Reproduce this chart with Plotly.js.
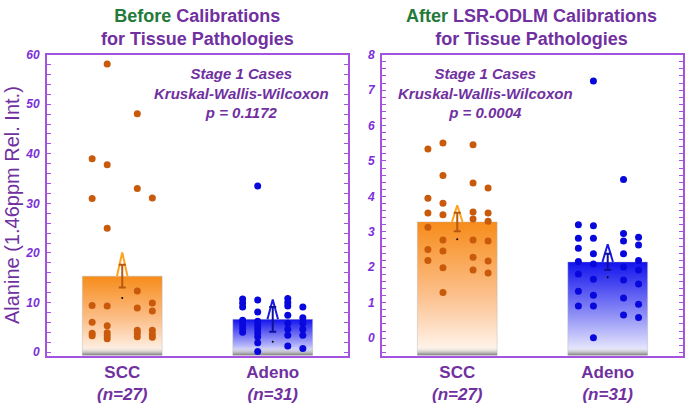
<html><head><meta charset="UTF-8"><title>Alanine before / after calibration</title>
<script src="https://cdn.jsdelivr.net/npm/plotly.js-dist-min@3"></script>
<style>
  body, html { margin: 0; padding: 0; background: #ffffff; }
  #plot { width: 685px; height: 411px; }
</style></head><body>
<div id="plot"></div>
<script>
  const categories = ['SCC', 'Adeno'];
  const counts = [27, 31];

  // before calibration, points grouped by jitter column
  const sccBefore = [
    [39.0, 31.0, 9.4, 6.0, 3.8, 3.3],
    [58.1, 37.8, 25.0, 9.3, 5.3, 3.9, 3.3, 2.7],
    [48.1, 33.0, 12.3, 8.9, 4.4, 3.8, 3.1],
    [31.1, 9.9, 8.3, 4.4, 3.6, 3.0]
  ];
  const adenoBefore = [
    [10.7, 9.9, 9.1, 6.4, 5.6, 4.8, 4.0],
    [33.5, 10.5, 8.1, 6.2, 5.4, 4.7, 3.9, 3.1, 1.9, 0.1],
    [10.8, 10.0, 9.3, 7.4, 5.8, 4.6, 3.4, 1.2],
    [9.1, 6.9, 5.8, 4.6, 3.4, 0.7]
  ];
  const meansBefore = [15.3, 6.6];
  const semBefore = [2.3, 2.5];
  const upperBefore = [20.1, 10.6];
  const medianBefore = [10.9, 2.1];

  // after LSR-ODLM calibration
  const sccAfter = [
    [5.34, 3.95, 3.53, 3.13, 2.50, 2.19],
    [5.51, 4.59, 3.81, 3.48, 2.77, 2.46, 1.99, 1.29],
    [5.46, 4.38, 3.56, 3.36, 2.77, 2.28, 1.92],
    [4.24, 3.53, 3.30, 2.74, 2.18, 1.84]
  ];
  const adenoAfter = [
    [3.20, 2.82, 2.54, 2.16, 1.81, 1.32, 0.91],
    [7.26, 3.17, 2.82, 2.38, 2.09, 1.66, 1.21, 0.91, 0.01],
    [4.48, 2.95, 2.74, 2.38, 2.01, 1.64, 1.13, 0.65],
    [2.85, 2.63, 2.19, 1.92, 1.53, 0.96, 0.58]
  ];
  const meansAfter = [3.28, 2.15];
  const semAfter = [0.26, 0.23];
  const upperAfter = [3.75, 2.65];
  const medianAfter = [2.79, 1.72];

  const pValues = ['0.1172', '0.0004'];

  const FONT = 'Liberation Sans, Arial, sans-serif';
  const PURPLE = '#7030a0';
  const TICKPURPLE = '#7b2fd9';
  const FRAME = '#a452e0';

  const styles = [
    { top: '#f78c1a', mid: '#fcc08c', bottom: '#fffaf6', dot: '#c95a0c', tri: '#ffa31f', err: '#b8590f' },
    { top: '#1212ee', mid: '#8c8cf6', bottom: '#f6f6ff', dot: '#0808dd', tri: '#1a1ae6', err: '#10109a' }
  ];

  function buildPanel(groups, means, sem, upper, median, range, offsets, xa, ya) {
    const traces = [];
    const hw = 0.265;
    const ymin = range[0];
    const band = (range[1] - range[0]) * 0.03;
    categories.forEach((cat, i) => {
      const st = styles[i];
      traces.push({
        x: [i - hw, i + hw, i + hw, i - hw, i - hw],
        y: [ymin, ymin, means[i], means[i], ymin],
        xaxis: xa, yaxis: ya, mode: 'lines', fill: 'toself',
        line: { color: 'rgba(185,185,185,0.45)', width: 1 },
        fillgradient: { type: 'vertical', colorscale: [[0, st.bottom], [0.45, st.mid], [1, st.top]] },
        hoverinfo: 'skip'
      });
      traces.push({
        x: [i - hw, i + hw, i + hw, i - hw, i - hw],
        y: [ymin, ymin, ymin + band, ymin + band, ymin],
        xaxis: xa, yaxis: ya, mode: 'lines', fill: 'toself',
        line: { width: 0, color: 'rgba(0,0,0,0)' },
        fillgradient: { type: 'vertical', colorscale: [[0, 'rgba(115,115,115,1)'], [1, 'rgba(255,255,255,0)']] },
        hoverinfo: 'skip'
      });
    });
    categories.forEach((cat, i) => {
      const st = styles[i];
      const xs = [], ys = [];
      groups[i].forEach((col, c) => {
        col.forEach(v => { xs.push(i + offsets[c]); ys.push(v); });
      });
      traces.push({
        x: xs, y: ys, xaxis: xa, yaxis: ya, mode: 'markers',
        marker: { color: st.dot, size: 7 }, name: cat
      });
      // mean arrow + SEM bar
      traces.push({
        x: [i - 0.035, i, i + 0.035], y: [means[i], upper[i], means[i]],
        xaxis: xa, yaxis: ya, mode: 'lines',
        line: { color: st.tri, width: 2 }, hoverinfo: 'skip'
      });
      traces.push({
        x: [i], y: [means[i]], xaxis: xa, yaxis: ya, mode: 'markers',
        marker: { size: 1, color: 'rgba(0,0,0,0)' },
        error_y: { type: 'data', array: [sem[i]], color: st.err, thickness: 2, width: 3.5 }
      });
      traces.push({
        x: [i], y: [median[i]], xaxis: xa, yaxis: ya, mode: 'markers',
        marker: { size: 2, color: '#000000' }, hoverinfo: 'skip'
      });
    });
    return traces;
  }

  const rangeBefore = [-0.7, 60];
  const rangeAfter = [-0.49, 8];

  const data = [].concat(
    buildPanel([sccBefore, adenoBefore], meansBefore, semBefore, upperBefore, medianBefore,
      rangeBefore, [-0.2, -0.1, 0.1, 0.2], 'x', 'y'),
    buildPanel([sccAfter, adenoAfter], meansAfter, semAfter, upperAfter, medianAfter,
      rangeAfter, [-0.195, -0.095, 0.105, 0.205], 'x2', 'y2')
  );

  const tickText = categories.map((c, i) => '<b>' + c + '</b><br><b><i>(n=' + counts[i] + ')</i></b>');

  function xAxis(domain) {
    return {
      domain: domain, range: [-0.5, 1.5], tickvals: [0, 1], ticktext: tickText,
      showline: true, linecolor: FRAME, linewidth: 2, mirror: true,
      ticks: '', showgrid: false, zeroline: false, fixedrange: true,
      tickfont: { family: FONT, size: 17, color: PURPLE }
    };
  }
  function yAxis(range, dtick, minor, anchor) {
    return {
      domain: [0.135, 0.867], range: range, dtick: dtick, tick0: 0, anchor: anchor,
      showline: true, linecolor: FRAME, linewidth: 2, mirror: 'ticks',
      ticks: 'inside', ticklen: 4, tickcolor: FRAME, tickwidth: 1,
      minor: { dtick: minor, ticks: 'inside', ticklen: 4, tickcolor: FRAME, tickwidth: 1 },
      showgrid: false, zeroline: false, ticklabelstandoff: 3,
      tickfont: { family: FONT, size: 12, color: TICKPURPLE, weight: 'bold', style: 'italic' }
    };
  }

  const statText = p => '<b><i>Stage 1 Cases<br>Kruskal-Wallis-Wilcoxon<br>p = ' + p + '</i></b>';

  const layout = {
    width: 685, height: 411,
    margin: { l: 0, r: 0, t: 0, b: 0 },
    paper_bgcolor: '#ffffff', plot_bgcolor: '#ffffff',
    showlegend: false,
    font: { family: FONT, color: PURPLE },
    xaxis: xAxis([0.0686, 0.508]),
    yaxis: yAxis(rangeBefore, 10, 2, 'x'),
    xaxis2: xAxis([0.5577, 0.997]),
    yaxis2: yAxis(rangeAfter, 1, 0.2, 'x2'),
    annotations: [
      { xref: 'paper', yref: 'paper', x: 0.2883, y: 0.934, xanchor: 'center', yanchor: 'middle',
        showarrow: false, font: { size: 18, color: PURPLE },
        text: '<b><span style="color:#237a38">Before</span> Calibrations</b><br><b>for Tissue Pathologies</b>' },
      { xref: 'paper', yref: 'paper', x: 0.7766, y: 0.934, xanchor: 'center', yanchor: 'middle',
        showarrow: false, font: { size: 18, color: PURPLE },
        text: '<b><span style="color:#237a38">After</span> LSR-ODLM Calibrations</b><br><b>for Tissue Pathologies</b>' },
      { xref: 'paper', yref: 'paper', x: 241.7 / 685, y: 0.773, xanchor: 'center', yanchor: 'middle',
        showarrow: false, font: { size: 15, color: PURPLE }, text: statText(pValues[0]) },
      { xref: 'paper', yref: 'paper', x: 485 / 685, y: 0.773, xanchor: 'center', yanchor: 'middle',
        showarrow: false, font: { size: 15, color: PURPLE }, text: statText(pValues[1]) },
      { xref: 'paper', yref: 'paper', x: 12 / 685, y: 0.501, xanchor: 'center', yanchor: 'middle',
        textangle: -90, showarrow: false, font: { size: 20, color: PURPLE },
        text: 'Alanine (1.46ppm Rel. Int.)' }
    ]
  };

  Plotly.newPlot('plot', data, layout, { staticPlot: true, displayModeBar: false });
</script>
</body></html>
